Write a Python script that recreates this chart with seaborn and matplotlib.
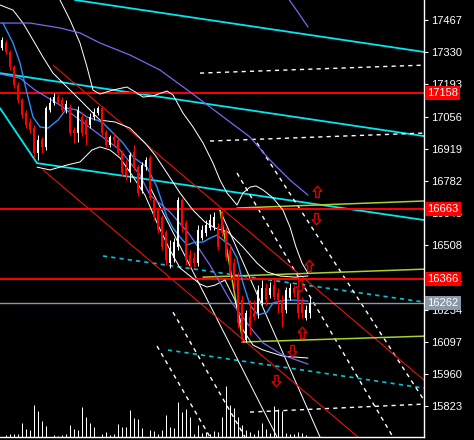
import numpy as np
import matplotlib
matplotlib.use("Agg")
import matplotlib.pyplot as plt
import matplotlib.transforms as mtransforms
from matplotlib.path import Path
import seaborn as sns

sns.set_style("dark", {"axes.facecolor": "black", "figure.facecolor": "black"})
plt.rcParams["font.family"] = ["Liberation Sans Narrow", "Liberation Sans", "DejaVu Sans"]
plt.rcParams["lines.scale_dashes"] = False

# ---------------- data ----------------
opens = [17348, 17369, 17331, 17267, 17190, 17127, 17071, 17033, 17007, 16901,
         16956, 16927, 17084, 17114, 17139, 17127, 17084, 17097, 16999, 16986,
         17054, 17041, 17020, 17054, 17071, 17092, 16990, 16935, 16969, 16956,
         16901, 16841, 16820, 16905, 16841, 16744, 16841, 16880, 16701, 16658,
         16629, 16565, 16433, 16454, 16501, 16701, 16603, 16467, 16454, 16433,
         16539, 16561, 16582, 16586, 16586, 16646, 16573, 16488, 16433, 16373,
         16275, 16105, 16203, 16220, 16220, 16263, 16327, 16297, 16339, 16305,
         16275, 16233, 16284, 16327, 16318, 16275, 16199, 16220]
closes = [17382, 17331, 17267, 17190, 17127, 17062, 17020, 16999, 16901, 16956,
          16927, 17092, 17114, 17139, 17118, 17084, 17109, 16986, 16986, 17084,
          16986, 16977, 17054, 17075, 17092, 16986, 16935, 16969, 16956, 16901,
          16816, 16807, 16893, 16841, 16731, 16850, 16871, 16710, 16629, 16573,
          16501, 16446, 16497, 16522, 16701, 16586, 16446, 16433, 16433, 16573,
          16573, 16595, 16616, 16629, 16501, 16561, 16459, 16390, 16361, 16178,
          16114, 16220, 16161, 16203, 16318, 16327, 16275, 16327, 16288, 16275,
          16220, 16318, 16327, 16305, 16220, 16220, 16233, 16262]
highs = [17395, 17382, 17339, 17275, 17203, 17135, 17084, 17050, 17020, 16977,
         16969, 17101, 17139, 17156, 17152, 17139, 17127, 17109, 17012, 17101,
         17075, 17054, 17071, 17092, 17101, 17101, 16999, 16977, 16986, 16965,
         16914, 16871, 16905, 16935, 16850, 16863, 16884, 16893, 16710, 16671,
         16637, 16573, 16531, 16539, 16714, 16710, 16616, 16488, 16480, 16595,
         16595, 16616, 16641, 16650, 16603, 16658, 16586, 16510, 16454, 16395,
         16297, 16233, 16275, 16275, 16339, 16361, 16348, 16352, 16373, 16327,
         16297, 16331, 16348, 16339, 16331, 16288, 16254, 16288]
lows = [17339, 17322, 17254, 17178, 17114, 17050, 17007, 16986, 16884, 16871,
        16901, 16914, 17075, 17105, 17109, 17075, 17071, 16977, 16944, 16948,
        16973, 16935, 17007, 17041, 17062, 16977, 16927, 16927, 16935, 16893,
        16803, 16786, 16778, 16829, 16718, 16731, 16829, 16701, 16616, 16561,
        16488, 16424, 16412, 16437, 16488, 16565, 16424, 16412, 16416, 16420,
        16531, 16548, 16573, 16573, 16488, 16548, 16446, 16378, 16318, 16156,
        16097, 16097, 16127, 16190, 16199, 16250, 16254, 16284, 16275, 16220,
        16161, 16220, 16275, 16288, 16199, 16199, 16190, 16199]
volumes = [0, 2, 3, 3, 3, 14, 8, 7, 32, 26, 16, 11, 0, 2, 1, 2, 3, 12, 8, 7,
           30, 20, 14, 10, 0, 3, 5, 2, 3, 13, 10, 10, 27, 19, 18, 9, 0, 7, 6, 3,
           7, 22, 10, 9, 35, 25, 28, 20, 3, 12, 4, 5, 3, 6, 5, 20, 51, 32, 29, 20,
           12, 7, 5, 3, 7, 14, 8, 4, 31, 28, 26, 4, 3, 3, 5, 4, 2, 0]

y_ticks = [17467, 17330, 17193, 17056, 16919, 16782, 16645, 16508, 16371,
           16234, 16097, 15960, 15823]
red_levels = [17158, 16663, 16366]
last_price = 16262

# indicator curves (bar index, price)
blue_x = [0.25, 2.75, 4.5, 6.25, 7.75, 9.5, 11.5, 14, 16.25, 18.75, 21.25, 23.75,
          25.25, 27.75, 30.25, 32.75, 36.25, 38.75, 41.25, 42.75, 44.5, 46.25,
          48.25, 50.25, 52, 53.75, 55.25, 57, 58.75, 60.25, 62, 64, 66.25, 67.75,
          70.25, 73.75, 76.5]
blue_y = [17454, 17369, 17284, 17156, 17054, 17012, 17007, 17041, 17092, 17084,
          17054, 17041, 17029, 16986, 16944, 16884, 16841, 16756, 16629, 16582,
          16544, 16510, 16522, 16522, 16539, 16552, 16531, 16510, 16454, 16348,
          16254, 16212, 16224, 16263, 16275, 16275, 16271]
purple_up_x = [-0.5, 7, 14.5, 19.5, 24.5, 32, 39.5, 47, 52, 57, 62, 67, 72, 76.5]
purple_up_y = [17454, 17454, 17433, 17412, 17369, 17318, 17254, 17161, 17097,
               17033, 16969, 16871, 16786, 16722]
purple_top_x = [71.5, 74, 76.5]
purple_top_y = [17560, 17500, 17437]
purple_lo_x = [-0.5, 4.5, 8.25, 14.5, 19.5, 24.5, 29.5, 34.5, 37, 42, 47, 52,
               57, 62, 65.25, 70.25, 76.5]
purple_lo_y = [17237, 17220, 17169, 17105, 17041, 16977, 16914, 16807, 16722,
               16650, 16552, 16424, 16275, 16161, 16093, 16041, 16003]
band_up_x = [-0.5, 2.75, 5.25, 7.75, 10.25, 12.75, 16.25, 19.5, 22, 24.5, 28.25,
             32, 35.75, 38.25, 41.25, 44.5, 47.75, 50.75, 53.25, 56.5, 60.25,
             63.75, 66.25, 69.5, 73.25, 76.5]
band_up_y = [17531, 17509, 17454, 17382, 17309, 17241, 17182, 17127, 17084,
             17041, 17033, 17007, 16944, 16893, 16816, 16731, 16658, 16607,
             16582, 16565, 16501, 16433, 16395, 16378, 16373, 16378]
band_lo_x = [8.75, 12, 16.25, 19.5, 22.5, 24.5, 27, 29.5, 32.5, 35.75, 39, 42,
             44.5, 47, 49.5, 51.25, 53.25, 55.75, 58.25, 60.25, 62.75, 65.25,
             70.25, 76.5]
band_lo_y = [16841, 16829, 16850, 16863, 16914, 16927, 16914, 16880, 16807,
             16722, 16595, 16488, 16412, 16378, 16344, 16331, 16339, 16361,
             16275, 16148, 16084, 16063, 16037, 16029]
wave_x = [14.5, 17, 19.5, 21.25, 22.75, 24.5, 27.75, 31.25, 33.75, 35.25, 37.75,
          41.25, 42.75, 45.25, 47.75, 50.25, 52.75, 54.5, 56.25, 58.75, 60.25,
          62, 63.5, 65.25, 67.75, 70.25, 72, 73.5, 75, 76.5]
wave_y = [17552, 17467, 17369, 17267, 17169, 17152, 17169, 17182, 17156, 17139,
          17144, 17165, 17148, 17071, 17012, 16944, 16858, 16786, 16731, 16680,
          16731, 16756, 16761, 16744, 16710, 16658, 16586, 16501, 16433, 16390]

# straight trend lines: (x0, y0, x1, y1)
cyan_lines = [(18.25, 17552, 105.5, 17331), (-0.5, 17241, 105.5, 16973),
              (-0.5, 17092, 8.75, 16858), (8.75, 16858, 105.5, 16616)]
cyan_dashed = [(25.25, 16463, 105.5, 16267), (41.5, 16063, 105.5, 15901)]
white_dashed = [(49.5, 17241, 105.5, 17275), (52, 16952, 105.5, 16986),
                (62, 15799, 105.5, 15833), (63.75, 16944, 105.5, 15850),
                (58.75, 16816, 97.75, 15693), (38.75, 16080, 52, 15693),
                (42.75, 16224, 60.75, 15693)]
white_solid = [(54.5, 16658, 79.5, 15693), (37, 16756, 68.75, 15693)]
red_diag = [(12.75, 17275, 105.5, 15935), (10.25, 16829, 89, 15693)]
green_lines = [(58.75, 16667, 105.5, 16697), (50.25, 16373, 105.5, 16407),
               (54.5, 16658, 60.25, 16097), (60, 16097, 105.5, 16122)]

up_arrow_x = [78.75, 76.75, 75]
up_arrow_y = [16735, 16420, 16135]
down_arrow_x = [78.5, 74.5, 72.5, 68.5]
down_arrow_y = [16624, 16339, 16063, 15935]

# ---------------- figure ----------------
fig = plt.figure(figsize=(4.74, 4.40), dpi=100, facecolor="black")
ax = fig.add_axes([0, 3 / 440, 424 / 474, 437 / 440])
ax.set_facecolor("black")
ax.set_xlim(-0.5, 105.5)
ax.set_ylim(15693, 17552)

px = 0.72  # one pixel in points
axv = ax.twinx()
axv.set_ylim(0, 437)
axv.vlines(np.arange(len(volumes)), 0, volumes, color="white", lw=px)
axv.set_axis_off()

for (x0, y0, x1, y1) in cyan_lines:
    ax.plot([x0, x1], [y0, y1], color="#00e8f0", lw=1.3)
for (x0, y0, x1, y1) in cyan_dashed:
    ax.plot([x0, x1], [y0, y1], color="#00c8d8", lw=1.2, dashes=(3, 3))
for (x0, y0, x1, y1) in white_dashed:
    ax.plot([x0, x1], [y0, y1], color="white", lw=1.0, dashes=(3, 3))
for (x0, y0, x1, y1) in white_solid:
    ax.plot([x0, x1], [y0, y1], color="white", lw=px)
for (x0, y0, x1, y1) in red_diag:
    ax.plot([x0, x1], [y0, y1], color="#ff1010", lw=px)
for (x0, y0, x1, y1) in green_lines:
    ax.plot([x0, x1], [y0, y1], color="#a8d030", lw=1.1)

for lv in red_levels:
    ax.axhline(lv, color="#ff0000", lw=1.4)
ax.axhline(last_price, color="#8899aa", lw=1.0)

sns.lineplot(x=band_up_x, y=band_up_y, ax=ax, color="white", lw=px, estimator=None, sort=False)
sns.lineplot(x=band_lo_x, y=band_lo_y, ax=ax, color="white", lw=px, estimator=None, sort=False)
sns.lineplot(x=wave_x, y=wave_y, ax=ax, color="white", lw=px, estimator=None, sort=False)
sns.lineplot(x=purple_up_x, y=purple_up_y, ax=ax, color="#7b68ee", lw=0.9, estimator=None, sort=False)
sns.lineplot(x=purple_top_x, y=purple_top_y, ax=ax, color="#7b68ee", lw=0.9, estimator=None, sort=False)
sns.lineplot(x=purple_lo_x, y=purple_lo_y, ax=ax, color="#7b68ee", lw=0.9, estimator=None, sort=False)
sns.lineplot(x=blue_x, y=blue_y, ax=ax, color="#2a8cff", lw=1.0, estimator=None, sort=False)

# candles
idx = np.arange(len(opens))
o = np.array(opens); c = np.array(closes)
colors = np.where(c >= o, "#ffffff", "#ff0000")
ax.vlines(idx, lows, highs, colors=colors, lw=px, zorder=5)
ax.bar(idx, np.maximum(np.abs(c - o), 3), bottom=np.minimum(o, c), width=0.7,
       color=colors, linewidth=0, zorder=6)

# arrows
up_path = Path([(0, 1), (0.7, 0.2), (0.28, 0.2), (0.28, -0.8), (-0.28, -0.8),
                (-0.28, 0.2), (-0.7, 0.2), (0, 1)],
               [Path.MOVETO] + [Path.LINETO] * 6 + [Path.CLOSEPOLY])
down_path = Path([(x, -y) for x, y in up_path.vertices], up_path.codes)
ax.plot(up_arrow_x, up_arrow_y, ls="none", marker=up_path, ms=9, mfc="black",
        mec="#dd0000", mew=1.0, zorder=8)
ax.plot(down_arrow_x, down_arrow_y, ls="none", marker=down_path, ms=9, mfc="black",
        mec="#dd0000", mew=1.0, zorder=8)

# axes styling
for s in ["top", "left"]:
    ax.spines[s].set_visible(False)
ax.spines["right"].set_color("white")
ax.spines["bottom"].set_color("white")
ax.spines["right"].set_linewidth(1)
ax.spines["bottom"].set_linewidth(1)
ax.set_xticks([])
ax.yaxis.tick_right()
ax.set_yticks(y_ticks)
ax.set_yticklabels([str(t) for t in y_ticks])
ax.tick_params(axis="y", colors="white", labelcolor="white", length=3, width=0.8,
               direction="out", pad=2, labelsize=8)
ax.grid(False)

trans = mtransforms.blended_transform_factory(ax.transAxes, ax.transData)
for lv in red_levels:
    ax.text(1.008, lv, str(lv), transform=trans, color="white", fontsize=8,
            va="center", ha="left", zorder=10, clip_on=False,
            bbox=dict(boxstyle="square,pad=0.18", fc="#ff0000", ec="none"))
ax.text(1.008, last_price, str(last_price), transform=trans, color="white", fontsize=8,
        va="center", ha="left", zorder=10, clip_on=False,
        bbox=dict(boxstyle="square,pad=0.18", fc="#8a98a8", ec="none"))

fig.savefig("out.png", dpi=100, facecolor="black")
